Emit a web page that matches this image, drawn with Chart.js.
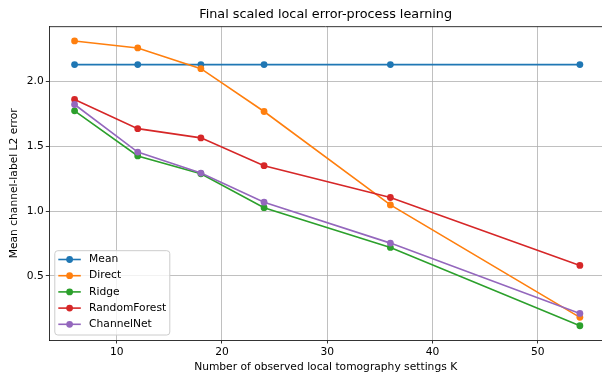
<!DOCTYPE html>
<html>
<head>
<meta charset="utf-8">
<script src="https://cdn.jsdelivr.net/npm/chart.js@4"></script>
<style>
  html, body { margin: 0; padding: 0; background: #fff; }
  #wrap { width: 602px; height: 377px; }
</style>
</head>
<body>
<div id="wrap"><canvas id="c" width="602" height="377"></canvas></div>
<script>
// Number of observed local tomography settings
const kValues = [6, 12, 18, 24, 36, 54];

// Mean channel-label L2 error per method
const meanErr = [2.127, 2.127, 2.127, 2.127, 2.127, 2.127];
const directErr = [2.309, 2.255, 2.096, 1.766, 1.047, 0.182];
const ridgeErr = [1.771, 1.424, 1.287, 1.026, 0.720, 0.117];
const forestErr = [1.859, 1.634, 1.563, 1.349, 1.104, 0.581];
const channelNetErr = [1.820, 1.454, 1.292, 1.068, 0.753, 0.212];

const seriesNames = ['Mean', 'Direct', 'Ridge', 'RandomForest', 'ChannelNet'];
const seriesValues = [meanErr, directErr, ridgeErr, forestErr, channelNetErr];
const seriesColors = ['#1f77b4', '#ff7f0e', '#2ca02c', '#d62728', '#9467bd'];

const xTicks = [10, 20, 30, 40, 50];
const yTicks = [0.5, 1.0, 1.5, 2.0];

const FONT = 'DejaVu Sans';
const LABEL_SIZE = 10.7;
const TITLE_SIZE = 12.8;

const datasets = seriesNames.map((name, i) => ({
  label: name,
  data: kValues.map((k, j) => ({ x: k, y: seriesValues[i][j] })),
  borderColor: seriesColors[i],
  backgroundColor: seriesColors[i],
  borderWidth: 1.6,
  pointRadius: 3.4,
  pointHoverRadius: 3.4,
  pointBorderWidth: 0,
  tension: 0,
  order: seriesNames.length - i
}));

// Top spine of the axes frame
const frameTop = {
  id: 'frameTop',
  afterDraw(chart) {
    const { ctx, chartArea } = chart;
    ctx.save();
    ctx.strokeStyle = '#000';
    ctx.lineWidth = 0.8;
    ctx.beginPath();
    ctx.moveTo(chartArea.left, chartArea.top);
    ctx.lineTo(chart.width, chartArea.top);
    ctx.stroke();
    ctx.restore();
  }
};

// Legend box in the lower-left corner, line + marker per entry
const cornerLegend = {
  id: 'cornerLegend',
  afterDatasetsDraw(chart) {
    const { ctx, chartArea } = chart;
    const w = 115, h = 84.3, r = 3;
    const x0 = chartArea.left + 5.5, y0 = chartArea.bottom - 5 - h;
    ctx.save();
    ctx.beginPath();
    ctx.moveTo(x0 + r, y0);
    ctx.arcTo(x0 + w, y0, x0 + w, y0 + h, r);
    ctx.arcTo(x0 + w, y0 + h, x0, y0 + h, r);
    ctx.arcTo(x0, y0 + h, x0, y0, r);
    ctx.arcTo(x0, y0, x0 + w, y0, r);
    ctx.closePath();
    ctx.fillStyle = 'rgba(255,255,255,0.8)';
    ctx.fill();
    ctx.strokeStyle = '#cccccc';
    ctx.lineWidth = 1;
    ctx.stroke();

    ctx.font = LABEL_SIZE + 'px "' + FONT + '"';
    ctx.textBaseline = 'middle';
    ctx.textAlign = 'left';
    seriesNames.forEach((name, i) => {
      const cy = y0 + 8.8 + i * 16.2;
      ctx.strokeStyle = seriesColors[i];
      ctx.lineWidth = 1.6;
      ctx.beginPath();
      ctx.moveTo(x0 + 3.5, cy);
      ctx.lineTo(x0 + 26, cy);
      ctx.stroke();
      ctx.fillStyle = seriesColors[i];
      ctx.beginPath();
      ctx.arc(x0 + 14.8, cy, 3.4, 0, Math.PI * 2);
      ctx.fill();
      ctx.fillStyle = '#000';
      ctx.fillText(name, x0 + 34.3, cy);
    });
    ctx.restore();
  }
};

new Chart(document.getElementById('c'), {
  type: 'line',
  data: { datasets },
  plugins: [frameTop, cornerLegend],
  options: {
    responsive: false,
    animation: false,
    events: [],
    // the plot runs right up to the canvas edge
    layout: { padding: 0, autoPadding: false },
    plugins: {
      legend: { display: false },
      tooltip: { enabled: false },
      title: {
        display: true,
        text: 'Final scaled local error-process learning',
        fullSize: false,
        color: '#000',
        font: { family: FONT, size: TITLE_SIZE, weight: 'normal' },
        padding: { top: 7, bottom: 4.3 }
      }
    },
    scales: {
      x: {
        type: 'linear',
        min: 3.6,
        max: 56.1,
        afterBuildTicks(scale) { scale.ticks = xTicks.map(v => ({ value: v })); },
        afterFit(scale) {
          scale.height = 37;
          scale.paddingLeft = 0;
          scale.paddingRight = 0;
        },
        ticks: {
          color: '#000',
          font: { family: FONT, size: LABEL_SIZE },
          padding: 2,
          maxRotation: 0,
          callback: v => String(v)
        },
        grid: {
          color: '#b0b0b0',
          lineWidth: 0.8,
          tickColor: '#000',
          tickLength: 3.5,
          drawTicks: true
        },
        border: { color: '#000', width: 0.8 },
        title: {
          display: true,
          text: 'Number of observed local tomography settings K',
          color: '#000',
          font: { family: FONT, size: LABEL_SIZE },
          padding: { top: 0, bottom: 3.5 }
        }
      },
      y: {
        type: 'linear',
        min: 0.0074,
        max: 2.419,
        afterBuildTicks(scale) { scale.ticks = yTicks.map(v => ({ value: v })); },
        afterFit(scale) { scale.width = 49.3; },
        ticks: {
          color: '#000',
          font: { family: FONT, size: LABEL_SIZE },
          padding: 2,
          callback: v => v.toFixed(1)
        },
        grid: {
          color: '#b0b0b0',
          lineWidth: 0.8,
          tickColor: '#000',
          tickLength: 3.5,
          drawTicks: true
        },
        border: { color: '#000', width: 0.8 },
        title: {
          display: true,
          text: 'Mean channel-label L2 error',
          color: '#000',
          font: { family: FONT, size: LABEL_SIZE },
          padding: { top: 7.5, bottom: 0 }
        }
      }
    }
  }
});
</script>
</body>
</html>
